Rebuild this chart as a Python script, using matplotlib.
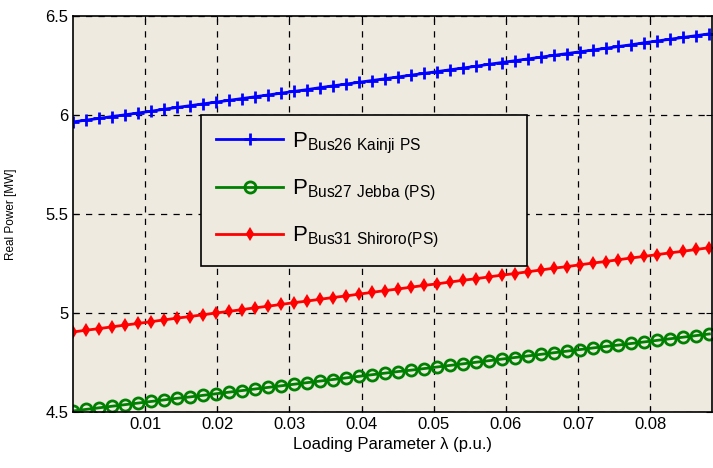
import matplotlib
matplotlib.use("Agg")
import matplotlib.pyplot as plt

plt.rcParams['font.family'] = ['Liberation Sans', 'DejaVu Sans']
plt.rcParams['mathtext.fontset'] = 'custom'
plt.rcParams['mathtext.rm'] = 'Liberation Sans'

# loading parameter (p.u.)
lam = [0.0000, 0.0018, 0.0036, 0.0054, 0.0072, 0.0090, 0.0108, 0.0126, 0.0144, 0.0162,
       0.0180, 0.0198, 0.0216, 0.0234, 0.0252, 0.0270, 0.0288, 0.0306, 0.0324, 0.0342,
       0.0360, 0.0378, 0.0396, 0.0414, 0.0432, 0.0450, 0.0468, 0.0486, 0.0504, 0.0522,
       0.0540, 0.0558, 0.0576, 0.0594, 0.0612, 0.0630, 0.0648, 0.0666, 0.0684, 0.0702,
       0.0720, 0.0738, 0.0756, 0.0774, 0.0792, 0.0810, 0.0828, 0.0846, 0.0864, 0.0882]

kainji = [5.965, 5.974, 5.983, 5.992, 6.001, 6.010, 6.019, 6.029, 6.038, 6.047,
          6.056, 6.065, 6.074, 6.083, 6.092, 6.101, 6.110, 6.119, 6.128, 6.138,
          6.147, 6.156, 6.165, 6.174, 6.183, 6.192, 6.201, 6.210, 6.219, 6.228,
          6.237, 6.246, 6.256, 6.265, 6.274, 6.283, 6.292, 6.301, 6.310, 6.319,
          6.328, 6.337, 6.346, 6.355, 6.365, 6.374, 6.383, 6.392, 6.401, 6.410]

jebba = [4.505, 4.513, 4.521, 4.529, 4.537, 4.545, 4.553, 4.561, 4.569, 4.576,
         4.584, 4.592, 4.600, 4.608, 4.616, 4.624, 4.632, 4.640, 4.648, 4.656,
         4.664, 4.672, 4.680, 4.688, 4.696, 4.704, 4.711, 4.719, 4.727, 4.735,
         4.743, 4.751, 4.759, 4.767, 4.775, 4.783, 4.791, 4.799, 4.807, 4.815,
         4.823, 4.831, 4.838, 4.846, 4.854, 4.862, 4.870, 4.878, 4.886, 4.894]

shiroro = [4.904, 4.913, 4.921, 4.930, 4.939, 4.947, 4.956, 4.965, 4.974, 4.982,
           4.991, 5.000, 5.008, 5.017, 5.026, 5.034, 5.043, 5.052, 5.060, 5.069,
           5.078, 5.086, 5.095, 5.104, 5.113, 5.121, 5.130, 5.139, 5.147, 5.156,
           5.165, 5.173, 5.182, 5.191, 5.199, 5.208, 5.217, 5.226, 5.234, 5.243,
           5.252, 5.260, 5.269, 5.278, 5.286, 5.295, 5.304, 5.312, 5.321, 5.330]

labels = [r'P$_{\rm Bus26\ Kainji\ PS}$',
          r'P$_{\rm Bus27\ Jebba\ (PS)}$',
          r'P$_{\rm Bus31\ Shiroro(PS)}$']

xticks = [0.01, 0.02, 0.03, 0.04, 0.05, 0.06, 0.07, 0.08]
yticks = [4.5, 5, 5.5, 6, 6.5]

fig = plt.figure(figsize=(7.13, 4.68), dpi=100)
ax = fig.add_axes([0.1024, 0.1197, 0.8966, 0.8461])
bg = '#eeeae0'
ax.set_facecolor(bg)

ax.plot(lam, kainji, '-+', color='#0000ff', lw=2, ms=9, mew=2, label=labels[0])
ax.plot(lam, jebba, '-o', color='#008000', lw=2, ms=8, mew=2, mfc='none', label=labels[1])
ax.plot(lam, shiroro, '-d', color='#ff0000', lw=2, ms=5, mew=1.5, label=labels[2])

ax.set_xlim(0, 0.0886)
ax.set_ylim(4.5, 6.5)
ax.set_xticks(xticks)
ax.set_xticklabels([f'{t:g}' for t in xticks])
ax.set_yticks(yticks)
ax.set_yticklabels(['4.5', '5', '5.5', '6', '6.5'])
ax.tick_params(direction='in', top=True, right=True, labelsize=12, length=4)
ax.grid(True, color='black', linestyle=(0, (5, 5)), lw=0.9)

for s in ax.spines.values():
    s.set_color('black')
    s.set_linewidth(1.2)

ax.set_xlabel('Loading Parameter \u03bb (p.u.)', fontsize=12, labelpad=4)
ax.set_ylabel('Real Power [MW]', fontsize=8.5, labelpad=20)

leg = ax.legend(loc='lower left', bbox_to_anchor=(0.2, 0.369, 0.51, 0.381), mode='expand',
                fontsize=16, frameon=True, fancybox=False, facecolor=bg, framealpha=1,
                edgecolor='black', handlelength=3.0, handletextpad=0.4, borderpad=0.7,
                labelspacing=1.0, borderaxespad=0)
leg.get_frame().set_linewidth(1.2)

fig.savefig('out.png', dpi=100)
